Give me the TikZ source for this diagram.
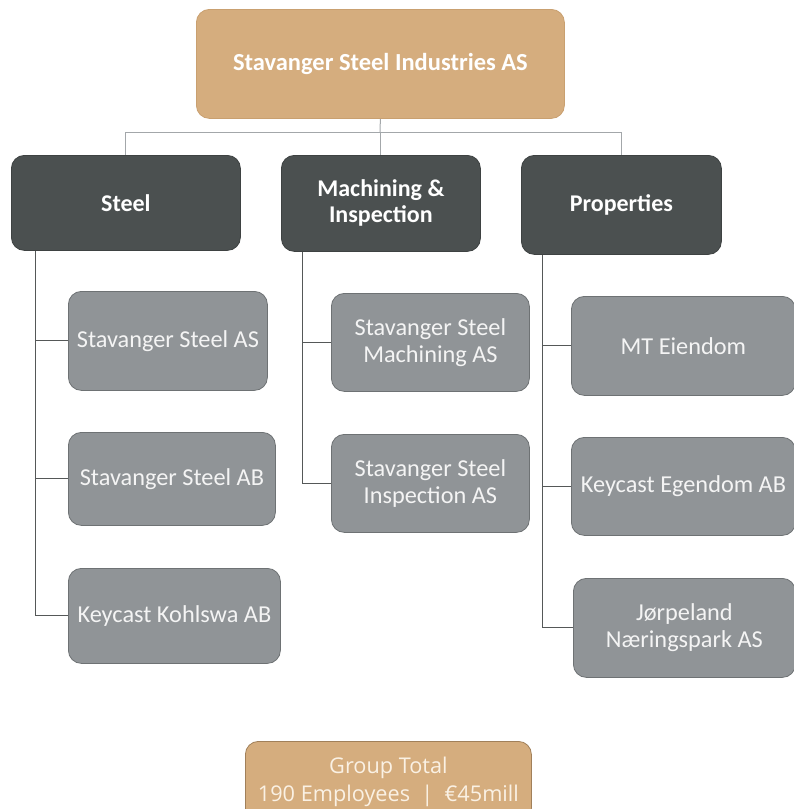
\documentclass[tikz,border=0pt]{standalone}
\usepackage{fontspec}
\setmainfont{Carlito}
\newfontfamily\totalfont{Open Sans}
\definecolor{tan}{HTML}{D5AD7E}
\definecolor{tanedge}{HTML}{C9A070}
\definecolor{dark}{HTML}{4B5050}
\definecolor{darkedge}{HTML}{3E4242}
\definecolor{midgray}{HTML}{909497}
\definecolor{grayedge}{HTML}{6E7274}
\definecolor{lightline}{HTML}{A3A7AA}
\definecolor{darkline}{HTML}{555858}
\definecolor{lighttext}{HTML}{F4F4F4}
\definecolor{totaltext}{HTML}{FAF1E4}
\tikzset{
  box/.style={rounded corners=13pt, inner sep=0pt, anchor=north west, align=center, line width=0.8pt},
  topbox/.style={box, fill=tan, draw=tanedge, text=white, font=\bfseries\fontsize{24.5}{28}\selectfont},
  divbox/.style={box, fill=dark, draw=darkedge, text=white, font=\bfseries\fontsize{24}{26}\selectfont},
  cobox/.style={box, fill=midgray, draw=grayedge, text=lighttext, font=\fontsize{24.3}{27}\selectfont},
  totbox/.style={box, fill=tan, draw=tanedge!80!black},
  tottextstyle/.style={font=\totalfont\fontsize{21.7}{28}\selectfont, text=totaltext, align=center, anchor=north, inner sep=0pt},
  upline/.style={draw=lightline, line width=1pt},
  lowline/.style={draw=darkline, line width=1pt}
}
\begin{document}
\begin{tikzpicture}[x=1pt,y=-1pt]
\useasboundingbox (0,0) rectangle (794,809);
\clip (0,0) rectangle (794,809);
% top
\node[topbox, minimum width=368pt, minimum height=109pt] (top) at (196,9) {Stavanger Steel Industries AS};
% divisions
\node[divbox, minimum width=229pt, minimum height=95pt] (steel) at (11,155) {Steel};
\node[divbox, minimum width=199pt, minimum height=96pt] (mach) at (281,155) {Machining \&\\Inspection};
\node[divbox, minimum width=200pt, minimum height=99pt] (props) at (521,155) {Properties};
% companies
\node[cobox, minimum width=199pt, minimum height=99pt] (ssas) at (68,291) {Stavanger Steel AS};
\node[cobox, minimum width=207pt, minimum height=93pt] (ssab) at (68,432) {Stavanger Steel AB};
\node[cobox, minimum width=212pt, minimum height=95pt] (kk) at (68,568) {Keycast Kohlswa AB};
\node[cobox, minimum width=198pt, minimum height=98pt] (ssm) at (331,293) {Stavanger Steel\\Machining AS};
\node[cobox, minimum width=198pt, minimum height=98pt] (ssi) at (331,434) {Stavanger Steel\\Inspection AS};
\node[cobox, minimum width=224pt, minimum height=99pt] (mt) at (571,296) {MT Eiendom};
\node[cobox, minimum width=224pt, minimum height=98pt] (ke) at (571,437) {Keycast Egendom AB};
\node[cobox, minimum width=222pt, minimum height=99pt] (jn) at (573,578) {Jørpeland\\Næringspark AS};
% total
\node[totbox, minimum width=286pt, minimum height=80pt] (tot) at (245,741) {};
\node[tottextstyle] (tottext) at ([yshift=-16pt]tot.north) {Group Total\\190 Employees~~|~~€45mill};
% upper connectors
\coordinate (bar) at (380,132);
\draw[upline] (top.south) -- (bar);
\draw[upline] (bar) -| (steel.north);
\draw[upline] (bar) -| (props.north);
\draw[upline] (bar) -- (bar -| mach.north) -- (mach.north);
% lower connectors
\coordinate (sx) at ([xshift=24pt]steel.south west);
\draw[lowline] (sx) |- (kk.west);
\draw[lowline] (sx |- ssas.west) -- (ssas.west);
\draw[lowline] (sx |- ssab.west) -- (ssab.west);
\coordinate (mx) at ([xshift=21pt]mach.south west);
\draw[lowline] (mx) |- (ssi.west);
\draw[lowline] (mx |- ssm.west) -- (ssm.west);
\coordinate (px) at ([xshift=21pt]props.south west);
\draw[lowline] (px) |- (jn.west);
\draw[lowline] (px |- mt.west) -- (mt.west);
\draw[lowline] (px |- ke.west) -- (ke.west);
\end{tikzpicture}
\end{document}
